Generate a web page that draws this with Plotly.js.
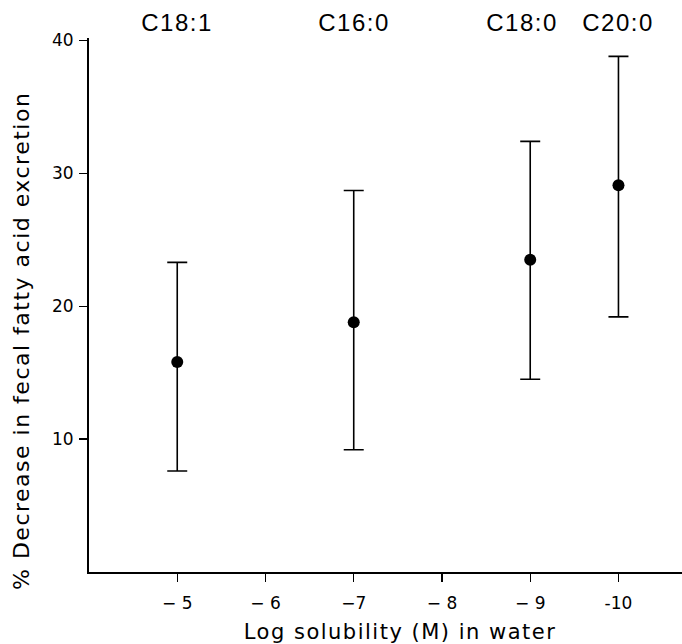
<!DOCTYPE html>
<html>
<head>
<meta charset="utf-8">
<script src="https://cdn.plot.ly/plotly-3.0.1.min.js"></script>
<style>
  html, body { margin: 0; padding: 0; background: #fff; }
  #chart { width: 682px; height: 644px; }
  #chart .annotation-text { letter-spacing: 1.5px; }
</style>
</head>
<body>
<div id="chart"></div>
<script>
// Data
const acids = ["C18:1", "C16:0", "C18:0", "C20:0"];
const logSolubility = [-5, -7, -9, -10];
const meanDecrease = [15.8, 18.8, 23.5, 29.1];
const upperLimit = [23.3, 28.7, 32.4, 38.8];
const lowerLimit = [7.6, 9.2, 14.5, 19.2];

const xTickVals = [-5, -6, -7, -8, -9, -10];
const xTickText = ["\u2212 5", "\u2212 6", "\u22127", "\u2212 8", "\u2212 9", "-10"];
const yTickVals = [10, 20, 30, 40];

const xTitle = "Log solubility (M) in water";
const yTitle = "% Decrease in fecal fatty acid excretion";

const errPlus = meanDecrease.map((m, i) => +(upperLimit[i] - m).toFixed(2));
const errMinus = meanDecrease.map((m, i) => +(m - lowerLimit[i]).toFixed(2));

const trace = {
  type: "scatter",
  mode: "markers",
  x: logSolubility,
  y: meanDecrease,
  marker: { color: "#000", size: 12 },
  error_y: {
    type: "data",
    symmetric: false,
    array: errPlus,
    arrayminus: errMinus,
    color: "#000",
    thickness: 1.6,
    width: 10
  },
  cliponaxis: false,
  hoverinfo: "skip"
};

const labelFont = { family: "Liberation Sans, Arial, sans-serif", size: 24, color: "#000" };
const xTitleFont = { family: "DejaVu Sans, sans-serif", size: 21, color: "#000" };
const yTitleFont = { family: "DejaVu Sans, sans-serif", size: 22, color: "#000" };

const annotations = acids.map((name, i) => ({
  x: logSolubility[i],
  xref: "x",
  y: 1,
  yref: "paper",
  yshift: 16,
  yanchor: "middle",
  xanchor: "center",
  text: name,
  showarrow: false,
  font: labelFont
}));
annotations[2].xshift = -8;

annotations.push({
  x: 0.5245, xref: "paper", y: -0.112, yref: "paper",
  xanchor: "center", yanchor: "middle",
  text: xTitle, showarrow: false, font: xTitleFont
});
annotations.push({
  x: -0.113, xref: "paper", y: 0.4326, yref: "paper",
  xanchor: "center", yanchor: "middle", textangle: -90,
  text: yTitle, showarrow: false, font: yTitleFont
});

const axisFont = { family: "DejaVu Sans, sans-serif", size: 17, color: "#000" };

const layout = {
  width: 682,
  height: 644,
  margin: { l: 89, r: 0, t: 38, b: 72, pad: 0 },
  paper_bgcolor: "#fff",
  plot_bgcolor: "#fff",
  showlegend: false,
  xaxis: {
    range: [-4, -10.72],
    tickvals: xTickVals,
    ticktext: xTickText,
    showline: true,
    linecolor: "#000",
    linewidth: 2,
    ticks: "outside",
    ticklen: 8,
    tickwidth: 1.3,
    tickcolor: "#000",
    ticklabelstandoff: 7,
    showgrid: false,
    zeroline: false,
    tickfont: axisFont,
    automargin: false,
    fixedrange: true
  },
  yaxis: {
    range: [0, 40.18],
    tickvals: yTickVals,
    showline: true,
    linecolor: "#000",
    linewidth: 2,
    ticks: "outside",
    ticklen: 8,
    tickwidth: 1.3,
    tickcolor: "#000",
    ticklabelstandoff: 2,
    showgrid: false,
    zeroline: false,
    tickfont: axisFont,
    automargin: false,
    fixedrange: true
  },
  annotations: annotations
};

Plotly.newPlot("chart", [trace], layout, { displayModeBar: false, staticPlot: true });
</script>
</body>
</html>
